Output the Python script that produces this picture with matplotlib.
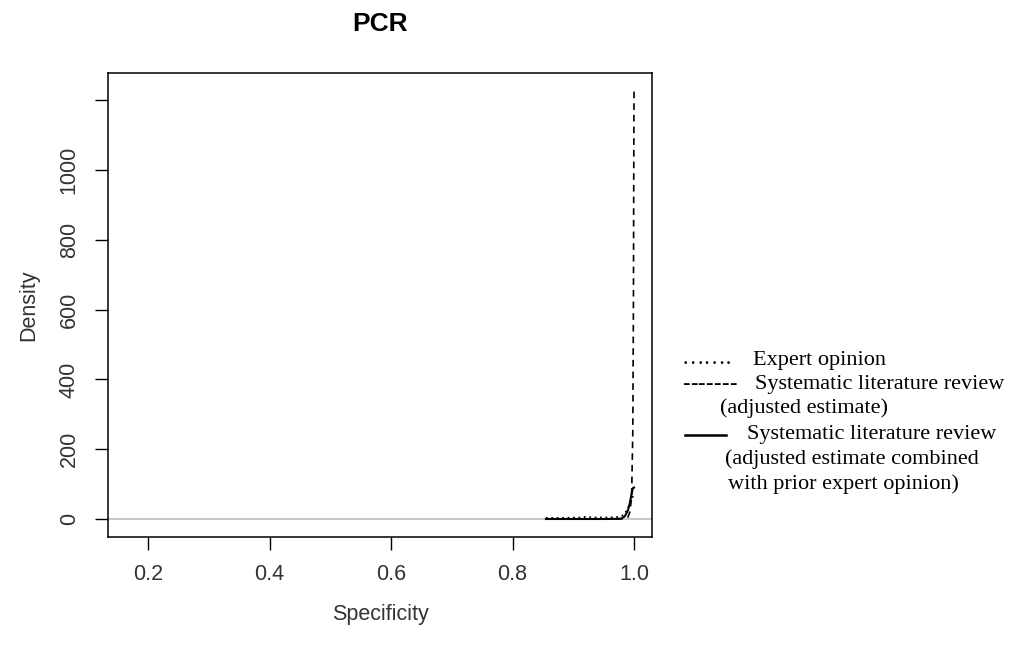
import numpy as np
import matplotlib
matplotlib.use('Agg')
import matplotlib.pyplot as plt
from matplotlib.lines import Line2D

# Densidades a posteriori / a priori da especificidade do PCR (valores lidos ponto a ponto)
x_expert = [0.855, 0.87, 0.89, 0.91, 0.92, 0.93, 0.95, 0.97, 0.98, 0.985, 0.99, 0.995, 1.0]
d_expert = [3, 3, 3.5, 4, 6, 4.5, 4, 5, 9, 16, 30, 55, 70]

x_review = [0.855, 0.95, 0.98, 0.99, 0.993, 0.996, 0.998, 0.999, 0.9995, 1.0]
d_review = [0, 0, 0.5, 5, 20, 60, 250, 600, 950, 1235]

x_combined = [0.855, 0.95, 0.975, 0.98, 0.985, 0.99, 0.993, 0.996, 0.998, 1.0]
d_combined = [0, 0, 0.5, 2, 8, 25, 45, 72, 88, 90]

xticks = [0.2, 0.4, 0.6, 0.8, 1.0]
yticks = [0, 200, 400, 600, 800, 1000, 1200]
ytick_labels = ['0', '200', '400', '600', '800', '1000', '']

W, H = 1026, 646
fig = plt.figure(figsize=(W / 100, H / 100), dpi=100)
ax = fig.add_axes([108 / W, 1 - 537 / H, (652 - 108) / W, (537 - 73) / H])

sans = 'Liberation Sans'
serif = 'Liberation Serif'
txt_col = '#333333'

ax.axhline(0, color='#bebebe', lw=1.2, zorder=1)
ax.plot(x_expert, d_expert, color='k', ls=(0, (1, 2)), lw=1.3)
ax.plot(x_review, d_review, color='k', ls=(0, (4, 3)), lw=1.2)
ax.plot(x_combined, d_combined, color='k', ls='-', lw=1.5)

ax.set_xlim(0.134, 1.0296)
ax.set_ylim(-51.6, 1278)
ax.set_xticks(xticks)
ax.set_xticklabels(['%.1f' % v for v in xticks], fontfamily=sans, fontsize=15.5, color=txt_col)
ax.set_yticks(yticks)
ax.set_yticklabels(ytick_labels, fontfamily=sans, fontsize=15.5, rotation=90,
                   va='center', color=txt_col)
ax.tick_params(axis='both', direction='out', length=9.4, width=1, color='k')
ax.tick_params(axis='x', pad=10)
ax.tick_params(axis='y', pad=11)
for s in ax.spines.values():
    s.set_linewidth(1.1)
    s.set_color('k')

ax.set_xlabel('Specificity', fontfamily=sans, fontsize=15.5, color=txt_col, labelpad=14)
ax.set_ylabel('Density', fontfamily=sans, fontsize=15.5, color=txt_col, labelpad=14)
fig.text(380 / W, 1 - 24 / H, 'PCR', fontfamily=sans, fontweight='bold', fontsize=19,
         ha='center', va='center')

# legenda escrita como texto; traço sólido desenhado como linha
legend_rows = [
    (682, 360, 'dots', 753, 'Expert opinion'),
    (682, 384, 'dash', 755, 'Systematic literature review'),
    (None, 408, None, 720, '(adjusted estimate)'),
    (685, 434, 'solid', 747, 'Systematic literature review'),
    (None, 459, None, 725, '(adjusted estimate combined'),
    (None, 484, None, 728, 'with prior expert opinion)'),
]
for kx, y, key, tx, txt in legend_rows:
    fy = 1 - y / H
    if key == 'dots':
        fig.text(kx / W, fy, '\u2026\u2026.', fontfamily=serif, fontsize=16, ha='left', va='center')
    elif key == 'dash':
        for i in range(7):
            fig.text((kx + i * 7.8) / W, fy, '-', fontfamily=serif, fontsize=16,
                     fontweight='bold', ha='left', va='center')
    elif key == 'solid':
        fig.add_artist(Line2D([kx / W, (kx + 41) / W], [fy - 1 / H, fy - 1 / H],
                              color='k', lw=1.8, transform=fig.transFigure))
    fig.text(tx / W, fy, txt, fontfamily=serif, fontsize=16, ha='left', va='center')

fig.savefig('out.png', dpi=100)
